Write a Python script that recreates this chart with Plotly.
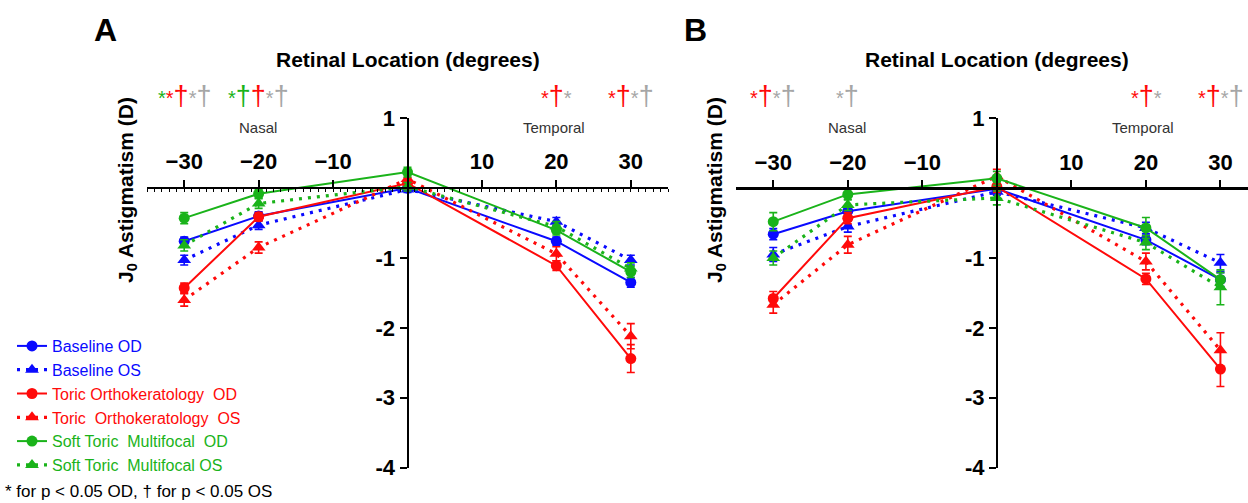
import plotly.graph_objects as go

# ---------------- data ----------------
x_pos = [-30, -20, 0, 20, 30]

series_names = ["Baseline OD", "Baseline OS",
                "Toric Orthokeratology&nbsp; OD", "Toric&nbsp; Orthokeratology&nbsp; OS",
                "Soft Toric&nbsp; Multifocal&nbsp; OD", "Soft Toric&nbsp; Multifocal OS"]

# Panel A values (J0, D)
A_base_OD = [-0.76, -0.40, 0.00, -0.76, -1.35]
A_base_OS = [-1.03, -0.53, -0.02, -0.48, -1.03]
A_tok_OD = [-1.43, -0.41, 0.07, -1.11, -2.44]
A_tok_OS = [-1.60, -0.85, 0.13, -0.94, -2.12]
A_stm_OD = [-0.43, -0.08, 0.23, -0.60, -1.20]
A_stm_OS = [-0.82, -0.22, 0.02, -0.55, -1.15]
# Panel A error bars
A_base_OD_err = [0.06, 0.06, 0.04, 0.06, 0.07]
A_base_OS_err = [0.07, 0.06, 0.04, 0.06, 0.07]
A_tok_OD_err = [0.07, 0.06, 0.08, 0.07, 0.20]
A_tok_OS_err = [0.09, 0.08, 0.10, 0.10, 0.18]
A_stm_OD_err = [0.08, 0.06, 0.07, 0.07, 0.08]
A_stm_OS_err = [0.08, 0.07, 0.06, 0.07, 0.08]

# Panel B values
B_base_OD = [-0.66, -0.33, -0.01, -0.74, -1.31]
B_base_OS = [-0.95, -0.55, -0.05, -0.57, -1.07]
B_tok_OD = [-1.58, -0.43, 0.02, -1.30, -2.59]
B_tok_OS = [-1.67, -0.81, 0.17, -1.05, -2.32]
B_stm_OD = [-0.48, -0.09, 0.14, -0.57, -1.31]
B_stm_OS = [-1.00, -0.24, -0.14, -0.78, -1.42]
# Panel B error bars
B_base_OD_err = [0.08, 0.07, 0.05, 0.07, 0.10]
B_base_OS_err = [0.10, 0.08, 0.05, 0.08, 0.12]
B_tok_OD_err = [0.10, 0.08, 0.08, 0.08, 0.25]
B_tok_OS_err = [0.12, 0.12, 0.10, 0.12, 0.25]
B_stm_OD_err = [0.13, 0.08, 0.10, 0.15, 0.10]
B_stm_OS_err = [0.10, 0.08, 0.10, 0.10, 0.25]

x_tickvals = [-30, -20, -10, 10, 20, 30]
y_tickvals = [1, -1, -2, -3, -4]

# significance markers: (x, [(symbol, colour), ...])
sig_A = [(-30, [("*", "g"), ("*", "r"), ("†", "r"), ("*", "k"), ("†", "k")]),
         (-20, [("*", "g"), ("†", "g"), ("†", "r"), ("*", "k"), ("†", "k")]),
         (20, [("*", "r"), ("†", "r"), ("*", "k")]),
         (30, [("*", "r"), ("†", "r"), ("*", "k"), ("†", "k")])]
sig_B = [(-30, [("*", "r"), ("†", "r"), ("*", "k"), ("†", "k")]),
         (-20, [("*", "k"), ("†", "k")]),
         (20, [("*", "r"), ("†", "r"), ("*", "k")]),
         (30, [("*", "r"), ("†", "r"), ("*", "k"), ("†", "k")])]

# ---------------- style ----------------
BLUE = "#0a0aff"
RED = "#ff0a0a"
GREEN = "#1ab31a"
GRAY = "#a6a6a6"
FONT = "Arial, Liberation Sans, sans-serif"
sig_col = {"g": GREEN, "r": RED, "k": GRAY}

W, H = 1248, 503

def px_x(p):
    return p / W

def px_y(p):
    return 1 - p / H

fig = go.Figure()

panels = {
    "A": dict(xa="x", ya="y",
              data=[(A_base_OD, A_base_OD_err), (A_base_OS, A_base_OS_err),
                    (A_tok_OD, A_tok_OD_err), (A_tok_OS, A_tok_OS_err),
                    (A_stm_OD, A_stm_OD_err), (A_stm_OS, A_stm_OS_err)]),
    "B": dict(xa="x2", ya="y2",
              data=[(B_base_OD, B_base_OD_err), (B_base_OS, B_base_OS_err),
                    (B_tok_OD, B_tok_OD_err), (B_tok_OS, B_tok_OS_err),
                    (B_stm_OD, B_stm_OD_err), (B_stm_OS, B_stm_OS_err)]),
}
colors = [BLUE, BLUE, RED, RED, GREEN, GREEN]

for pname, p in panels.items():
    for i, (vals, errs) in enumerate(p["data"]):
        od = (i % 2 == 0)
        c = colors[i]
        fig.add_trace(go.Scatter(
            x=x_pos, y=vals,
            error_y=dict(type="data", array=errs, visible=True, color=c,
                         thickness=1.6, width=4),
            mode="lines+markers",
            line=dict(color=c, width=2 if od else 3.2,
                      dash="solid" if od else "3px,6px"),
            marker=dict(color=c, size=11 if od else 12,
                        symbol="circle" if od else "triangle-up"),
            name=f'<span style="color:{c}">{series_names[i]}</span>',
            showlegend=(pname == "A"),
            xaxis=p["xa"], yaxis=p["ya"],
        ))

# axis geometry (pixels)
A_left, A_right, A_y0px, A_x0px = 147, 668, 187.7, 407.5
B_left, B_right, B_y0px, B_x0px = 736, 1248, 188.3, 997
ytop_px, ybot_px = 118.3, 467.5

tickfont = dict(family=FONT, size=22, color="black", weight="bold")

def xaxis_cfg(left, right, rng, ypos, minor, lw):
    cfg = dict(domain=[px_x(left), px_x(right)], range=rng, anchor="free",
               position=ypos, side="top", showline=True, linecolor="black",
               linewidth=lw, ticks="outside", ticklen=7, tickwidth=2,
               tickcolor="black", tickvals=x_tickvals, tickfont=tickfont,
               showgrid=False, zeroline=False, ticklabelstandoff=2,
               automargin=False)
    if minor:
        cfg["minor"] = dict(ticks="inside", dtick=1, ticklen=3, tickwidth=1,
                            tickcolor="black", showgrid=False)
    return cfg

def yaxis_cfg(xpos):
    return dict(domain=[px_y(ybot_px), px_y(ytop_px)], range=[-4, 1],
                anchor="free", position=xpos, side="left", showline=True,
                linecolor="black", linewidth=2, ticks="outside", ticklen=7,
                tickwidth=2, tickcolor="black", tickvals=y_tickvals,
                ticktext=[str(v) for v in y_tickvals], tickfont=tickfont,
                showgrid=False, zeroline=False, automargin=False)

fig.update_layout(
    xaxis=xaxis_cfg(A_left, A_right, [-35, 35], px_y(A_y0px), True, 2),
    yaxis=yaxis_cfg(px_x(A_x0px)),
    xaxis2=xaxis_cfg(B_left, B_right, [-35, 33.7], px_y(B_y0px), False, 3),
    yaxis2=yaxis_cfg(px_x(B_x0px)),
)

ann = []
def add_text(x, y, text, size, color="black", bold=False, angle=0, xanchor="center"):
    ann.append(dict(xref="paper", yref="paper", x=px_x(x), y=px_y(y),
                    text=text, showarrow=False, textangle=angle,
                    xanchor=xanchor, yanchor="middle",
                    font=dict(family=FONT, size=size, color=color,
                              weight="bold" if bold else "normal")))

# panel letters
add_text(105, 30, "A", 32, bold=True)
add_text(695, 30, "B", 32, bold=True)
# axis titles
add_text(A_x0px, 60, "Retinal Location (degrees)", 21, bold=True)
add_text(B_x0px, 60, "Retinal Location (degrees)", 21, bold=True)
add_text(127, 190, "J<sub>0</sub> Astigmatism (D)", 21, bold=True, angle=-90)
add_text(716, 190, "J<sub>0</sub> Astigmatism (D)", 21, bold=True, angle=-90)
# Nasal / Temporal
for (cx, lbl) in [(258, "Nasal"), (554, "Temporal"), (847, "Nasal"), (1143, "Temporal")]:
    add_text(cx, 128, lbl, 15, color="#333333")

# significance markers
def sig_html(items):
    parts = []
    for sym, col in items:
        size = 20 if sym == "*" else 27
        parts.append(f'<span style="color:{sig_col[col]};font-size:{size}px">{sym}</span>')
    return "".join(parts)

for (xv, items) in sig_A:
    cx = A_x0px + xv * (A_right - A_left) / 70
    add_text(cx, 96, sig_html(items), 27)
for (xv, items) in sig_B:
    cx = B_x0px + xv * (B_right - B_left) / 68.7
    add_text(cx, 96, sig_html(items), 27)

# footnote
add_text(3, 491, "* for p &lt; 0.05 OD, † for p &lt; 0.05 OS", 17, xanchor="left")

fig.update_layout(
    annotations=ann,
    width=W, height=H,
    margin=dict(l=0, r=0, t=0, b=0, autoexpand=False),
    paper_bgcolor="white", plot_bgcolor="rgba(0,0,0,0)",
    font=dict(family=FONT),
    showlegend=True,
    legend=dict(x=px_x(12), y=px_y(329), xanchor="left", yanchor="top",
                font=dict(family=FONT, size=16), bgcolor="rgba(0,0,0,0)",
                traceorder="normal", itemwidth=30, tracegroupgap=0),
)

fig.write_html("out.html", config={"displayModeBar": False},
               post_script="document.body.style.margin='0px';document.body.style.overflow='hidden';")
